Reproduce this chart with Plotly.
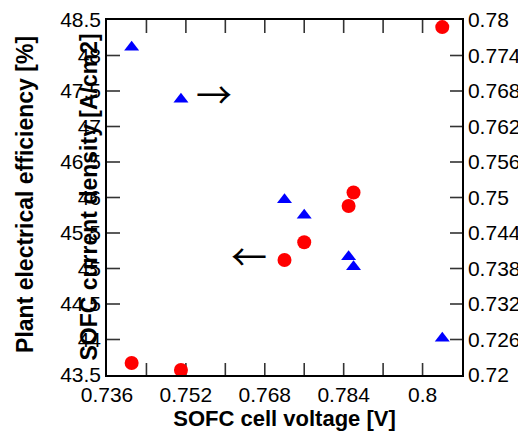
import plotly.graph_objects as go

# Data
voltage = [0.741, 0.751, 0.772, 0.776, 0.785, 0.786, 0.804]          # SOFC cell voltage [V]
efficiency = [43.67, 43.57, 45.12, 45.37, 45.88, 46.07, 48.40]      # Plant electrical efficiency [%]
current_density = [0.7754, 0.7666, 0.7496, 0.7470, 0.7400, 0.7383, 0.7262]  # SOFC current density [A/cm2]

# Axis ticks
x_tick_labels = [0.736, 0.752, 0.768, 0.784, 0.8]
x_tick_marks = [0.744, 0.752, 0.760, 0.768, 0.776, 0.784, 0.792, 0.800]
y_tick_values = [43.5, 44, 44.5, 45, 45.5, 46, 46.5, 47, 47.5, 48, 48.5]
y2_tick_values = [0.72, 0.726, 0.732, 0.738, 0.744, 0.75, 0.756, 0.762, 0.768, 0.774, 0.78]

x_title = "SOFC cell voltage [V]"
y_title = "Plant electrical efficiency [%]"
y2_title = "SOFC current density [A/cm2]"

FONT = "Liberation Sans, Arial, sans-serif"
TICKC = "#333333"
X_RANGE = [0.736, 0.808]
Y_RANGE = [43.5, 48.5]
Y2_RANGE = [0.72, 0.78]
PLOT_PX = 355.0

# tick lengths converted from pixels to axis units
dx_left = 13 / PLOT_PX * (X_RANGE[1] - X_RANGE[0])
dx_right = 12 / PLOT_PX * (X_RANGE[1] - X_RANGE[0])
dy_bottom = 12 / PLOT_PX * (Y_RANGE[1] - Y_RANGE[0])
dy_top = 13 / PLOT_PX * (Y_RANGE[1] - Y_RANGE[0])

tx, ty = [], []
for v in x_tick_marks:
    tx += [v, v, None, v, v, None]
    ty += [Y_RANGE[0], Y_RANGE[0] + dy_bottom, None, Y_RANGE[1], Y_RANGE[1] - dy_top, None]
for v in y_tick_values[1:-1]:
    tx += [X_RANGE[0], X_RANGE[0] + dx_left, None]
    ty += [v, v, None]
t2x, t2y = [], []
for v in y2_tick_values[1:-1]:
    t2x += [X_RANGE[1], X_RANGE[1] - dx_right, None]
    t2y += [v, v, None]

fig = go.Figure()
fig.add_trace(go.Scatter(x=tx, y=ty, mode="lines", yaxis="y", line=dict(color=TICKC, width=1.6),
                         hoverinfo="skip", cliponaxis=False, showlegend=False))
fig.add_trace(go.Scatter(x=t2x, y=t2y, mode="lines", yaxis="y2", line=dict(color=TICKC, width=1.6),
                         hoverinfo="skip", cliponaxis=False, showlegend=False))
fig.add_trace(go.Scatter(
    x=voltage, y=efficiency, mode="markers", yaxis="y",
    marker=dict(symbol="circle", size=14, color="#ff0000"),
    cliponaxis=False, showlegend=False,
))
fig.add_trace(go.Scatter(
    x=voltage, y=current_density, mode="markers", yaxis="y2",
    marker=dict(symbol="triangle-up", size=13, color="#0000ff"),
    cliponaxis=False, showlegend=False,
))

tick_font = dict(family=FONT, size=21, color="black")

# the page body adds an 8px offset, so the figure is 8px smaller and margins shifted
fig.update_layout(
    template="none",
    width=518, height=435,
    margin=dict(l=99, r=64, t=12, b=68, autoexpand=False),
    paper_bgcolor="white", plot_bgcolor="white",
    font=dict(family=FONT, color="black"),
    xaxis=dict(
        range=X_RANGE, tickmode="array", tickvals=x_tick_labels,
        ticktext=[f"{v:g}" for v in x_tick_labels], ticks="",
        showline=True, linecolor="black", linewidth=1.5, mirror=True,
        showgrid=False, zeroline=False, tickfont=tick_font, automargin=False,
        title=dict(text="<b>" + x_title + "</b>", font=dict(family=FONT, size=22, color="black"), standoff=6),
    ),
    yaxis=dict(
        range=Y_RANGE, tickmode="array", tickvals=y_tick_values,
        ticktext=[f"{v:g}" for v in y_tick_values], ticks="",
        showline=True, linecolor="black", linewidth=1.5, mirror=True,
        showgrid=False, zeroline=False, tickfont=tick_font, automargin=False,
    ),
    yaxis2=dict(
        range=Y2_RANGE, tickmode="array", tickvals=y2_tick_values,
        ticktext=[f"{v:g}" for v in y2_tick_values], ticks="",
        overlaying="y", side="right",
        showline=True, linecolor="black", linewidth=1.5,
        showgrid=False, zeroline=False, tickfont=tick_font, automargin=False,
    ),
    annotations=[
        dict(text="<b>" + y_title + "</b>", xref="paper", yref="paper",
             x=-0.231, y=0.51, textangle=-90, showarrow=False,
             xanchor="center", yanchor="middle",
             font=dict(family=FONT, size=23, color="black")),
        dict(text="<b>" + y2_title + "</b>", xref="paper", yref="paper",
             x=-0.0535, y=0.5, textangle=-90, showarrow=False,
             xanchor="center", yanchor="middle",
             font=dict(family=FONT, size=23, color="black")),
        dict(text="→", xref="x", yref="y", x=0.7577, y=47.47, showarrow=False,
             xanchor="center", yanchor="middle",
             font=dict(family="Noto Sans CJK JP", size=36, color="black")),
        dict(text="←", xref="x", yref="y", x=0.7648, y=45.19, showarrow=False,
             xanchor="center", yanchor="middle",
             font=dict(family="Noto Sans CJK JP", size=36, color="black")),
    ],
)

fig.write_html("out.html")
